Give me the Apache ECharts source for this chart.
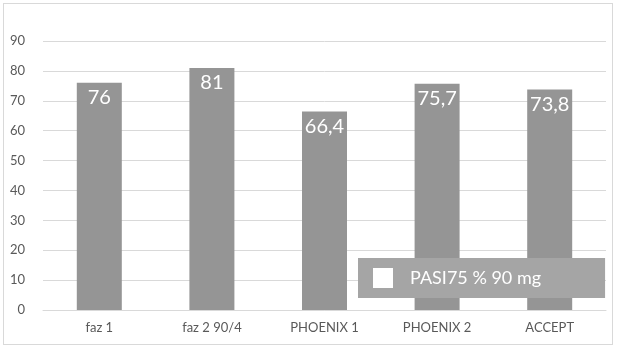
<!DOCTYPE html>
<html>
<head>
<meta charset="utf-8">
<script src="https://cdn.jsdelivr.net/npm/echarts@6/dist/echarts.min.js"></script>
<style>
  html, body { margin: 0; padding: 0; background: #fff; }
  #frame { position: absolute; left: 3px; top: 3px; width: 608px; height: 340px; border: 1px solid #d9d9d9; }
  #chart { position: absolute; left: 0; top: 0; width: 617px; height: 349px; }
</style>
</head>
<body>
<div id="frame"></div>
<div id="chart"></div>
<script>
// PASI75 response at 90 mg per study
const categories = ['faz 1', 'faz 2 90/4', 'PHOENIX 1', 'PHOENIX 2', 'ACCEPT'];
const values = [76, 81, 66.4, 75.7, 73.8];
const seriesName = 'PASI75 % 90 mg';

const chart = echarts.init(document.getElementById('chart'));

chart.setOption({
  animation: false,
  textStyle: { fontFamily: 'Lato, "Open Sans", sans-serif' },
  grid: { left: 43, right: 11, top: 41, bottom: 39 },
  xAxis: {
    type: 'category',
    data: categories,
    axisLine: { lineStyle: { color: '#d9d9d9' } },
    axisTick: { show: false },
    axisLabel: { color: '#595959', fontSize: 13, margin: 11 }
  },
  yAxis: {
    type: 'value',
    min: 0,
    max: 90,
    interval: 10,
    axisLine: { show: false },
    axisTick: { show: false },
    axisLabel: { color: '#595959', fontSize: 13, margin: 18 },
    splitLine: { lineStyle: { color: '#d9d9d9' } }
  },
  legend: {
    left: 358,
    top: 258,
    data: [{ name: seriesName, icon: 'rect', itemStyle: { color: '#ffffff' } }],
    backgroundColor: '#a5a5a5',
    padding: [10, 64, 10, 15],
    itemWidth: 20,
    itemHeight: 20,
    selectedMode: false,
    textStyle: { color: '#ffffff', fontSize: 18, padding: [0, 0, 0, 12] }
  },
  series: [{
    name: seriesName,
    type: 'bar',
    data: values,
    barWidth: 45,
    itemStyle: { color: '#959595' },
    label: {
      show: true,
      position: 'insideTop',
      distance: 5,
      color: '#ffffff',
      fontSize: 20,
      formatter: p => String(p.value).replace('.', ',')
    }
  }]
});
</script>
</body>
</html>
